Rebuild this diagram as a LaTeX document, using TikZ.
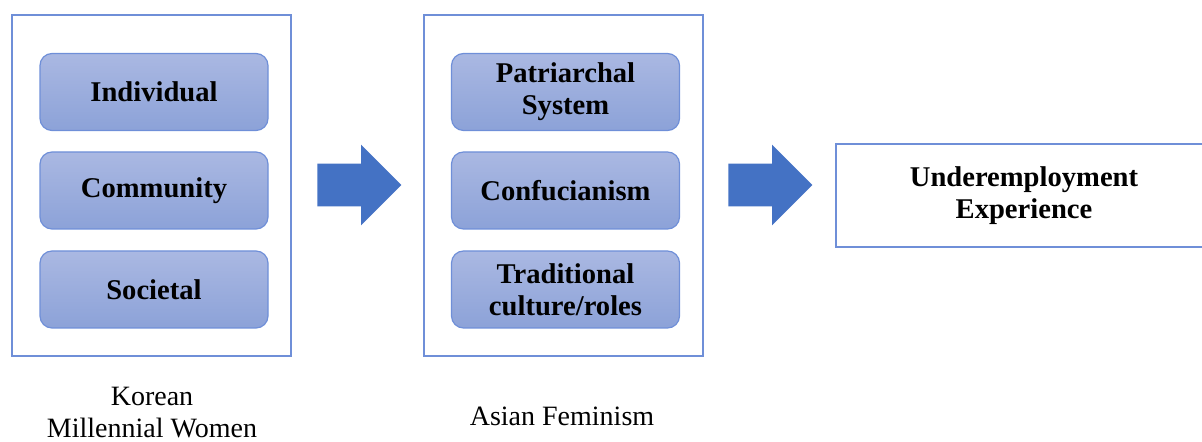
\documentclass[tikz,border=0pt]{standalone}
\usepackage{fontspec}
\setmainfont{Liberation Serif}
\usetikzlibrary{shapes,arrows,positioning}

\definecolor{frameblue}{HTML}{6F8FD8}
\definecolor{factortop}{HTML}{AAB8E2}
\definecolor{factorbot}{HTML}{8CA2D8}
\definecolor{arrowblue}{HTML}{4472C4}

\begin{document}
\begin{tikzpicture}[
    x=0.5pt, y=-0.5pt,
    % Block styles
    groupbox/.style={
        rectangle,
        draw=frameblue,
        line width=0.75pt,
        minimum width=139.5pt,
        minimum height=170.5pt
    },
    factorbox/.style={
        rectangle,
        draw=frameblue,
        line width=0.6pt,
        top color=factortop,
        bottom color=factorbot,
        minimum width=114pt,
        minimum height=38.5pt,
        align=center,
        rounded corners=6pt,
        font=\fontsize{14.3}{16}\selectfont\bfseries
    },
    resultbox/.style={
        rectangle,
        draw=frameblue,
        line width=0.75pt,
        minimum width=188pt,
        minimum height=51.5pt,
        align=center,
        font=\fontsize{14.3}{16}\selectfont\bfseries
    },
    flowarrow/.style={
        single arrow,
        fill=arrowblue,
        draw=none,
        inner xsep=0pt,
        inner ysep=10.5pt,
        minimum height=42pt,
        single arrow head extend=9.5pt,
        single arrow tip angle=90,
        anchor=tail
    },
    caption/.style={
        align=center,
        font=\fontsize{14}{16}\selectfont
    }
]
\useasboundingbox (0,0) rectangle (1202,442);

% Korean Millennial Women
\node[groupbox] (women) at (151.5,185.5) {};
\node[factorbox] (individual) at (154,92) {Individual};
\node[factorbox] (community) at (154,190.5) {Community};
\node[factorbox] (societal) at (154,289.5) {Societal};
\node[caption] (women_label) at (152,413) {Korean\\Millennial Women};

% Asian Feminism
\node[groupbox] (feminism) at (563.5,185.5) {};
\node[factorbox] (patriarchal) at (565.5,92) {Patriarchal\\System};
\node[factorbox] (confucianism) at (565.5,190.5) {Confucianism};
\node[factorbox] (traditional) at (565.5,289.5) {Traditional\\culture/roles};
\node[caption] (feminism_label) at (562,416) {Asian Feminism};

% Outcome
\node[resultbox] (underemployment) at (1024,195.5) {Underemployment\\Experience};

% Flow arrows
\node[flowarrow] (arrow_one) at (317,185) {};
\node[flowarrow] (arrow_two) at (728,185) {};

\end{tikzpicture}
\end{document}
